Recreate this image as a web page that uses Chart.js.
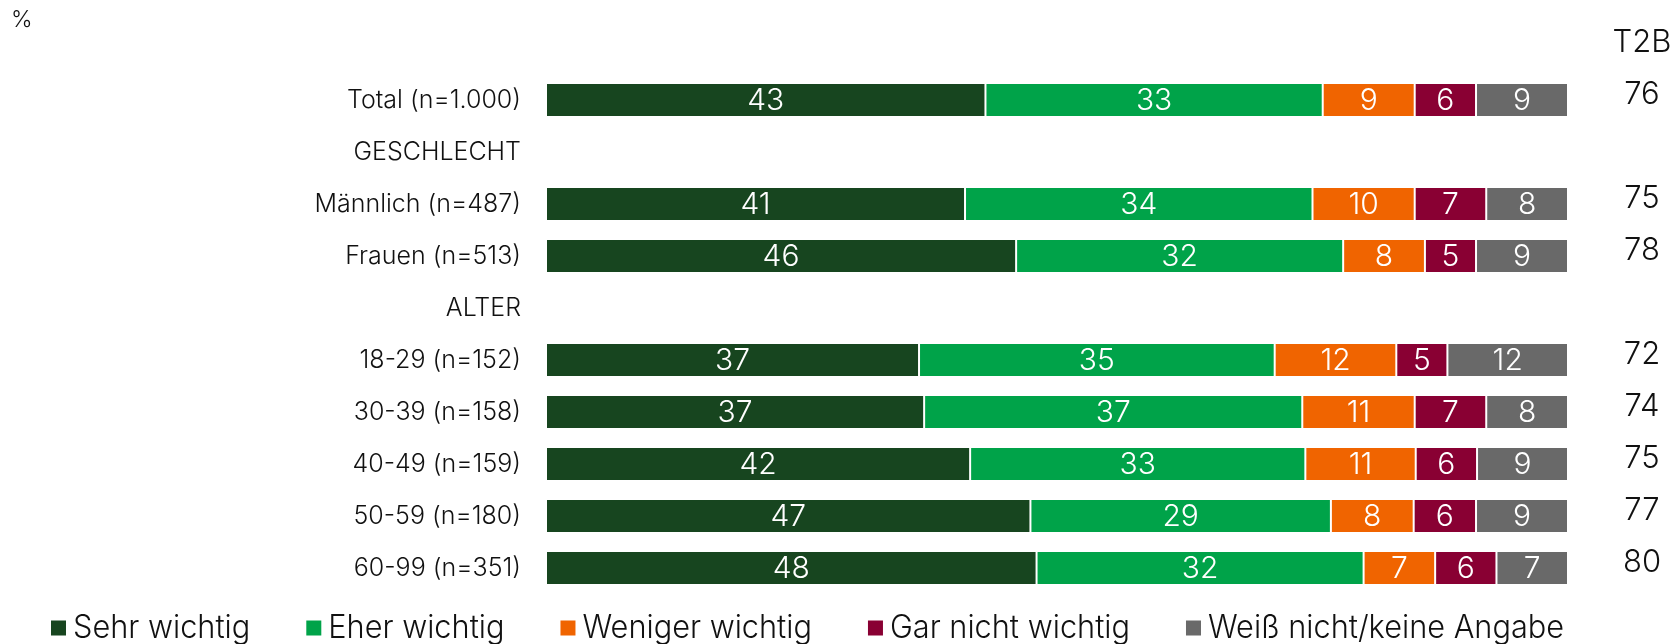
<!DOCTYPE html>
<html>
<head>
<meta charset="utf-8">
<script src="https://cdn.jsdelivr.net/npm/chart.js@4/dist/chart.umd.min.js"></script>
<style>
  html, body { margin: 0; padding: 0; background: #fff; }
  #wrap { width: 1674px; height: 644px; position: relative; }
</style>
</head>
<body>
<div id="wrap"><canvas id="importanceChart"></canvas></div>
<script>
// categories (empty rows are the group headings)
const categories = ['Total (n=1.000)', 'GESCHLECHT', 'Männlich (n=487)', 'Frauen (n=513)', 'ALTER',
    '18-29 (n=152)', '30-39 (n=158)', '40-49 (n=159)', '50-59 (n=180)', '60-99 (n=351)'];

// series, in %
const sehrWichtig    = [43, null, 41, 46, null, 36.5, 37, 41.5, 47.4, 48];
const eherWichtig    = [33, null, 34, 32, null, 34.8, 37, 32.8, 29.4, 32];
const wenigerWichtig = [9, null, 10, 8, null, 11.9, 11, 10.8, 8.1, 7];
const garNicht       = [6, null, 7, 5, null, 5.0, 7, 6.0, 6.1, 6];
const weissNicht     = [9, null, 8, 9, null, 11.8, 8, 8.9, 9.0, 7];

// top two boxes
const t2b = [76, null, 75, 78, null, 72, 74, 75, 77, 80];

const seriesNames = ['Sehr wichtig', 'Eher wichtig', 'Weniger wichtig', 'Gar nicht wichtig', 'Weiß nicht/keine Angabe'];
const seriesColors = ['#17451f', '#00a349', '#f06400', '#890033', '#696969'];

const FONT = 'Inter, "Open Sans", sans-serif';

// value labels inside bars, T2B column, header texts, legend
const extras = {
    id: 'extras',
    afterDatasetsDraw(chart) {
        const ctx = chart.ctx;
        ctx.save();
        ctx.textAlign = 'center';
        ctx.textBaseline = 'middle';
        ctx.fillStyle = '#ffffff';
        ctx.font = '300 30px ' + FONT;
        chart.data.datasets.forEach((ds, i) => {
            chart.getDatasetMeta(i).data.forEach((bar, j) => {
                const v = ds.data[j];
                if (v == null) return;
                const p = bar.getProps(['x', 'y', 'base'], true);
                ctx.fillText(Math.round(v), (p.x + p.base) / 2, p.y + 1);
            });
        });

        const yScale = chart.scales.y;
        const colX = 1642;
        ctx.fillStyle = '#111111';
        ctx.font = '300 31px ' + FONT;
        t2b.forEach((v, j) => {
            if (v == null) return;
            ctx.fillText(v, colX, yScale.getPixelForValue(j) - 5);
        });
        ctx.font = '300 31px ' + FONT;
        ctx.fillText('T2B', colX, 43);
        ctx.textAlign = 'left';
        ctx.font = '300 23px ' + FONT;
        ctx.fillText('%', 11, 20);

        // legend
        const ly = 627;
        const box = 15;
        let x = 51;
        ctx.font = '300 32px ' + FONT;
        const squeeze = 0.96;
        seriesNames.forEach((name, i) => {
            ctx.fillStyle = seriesColors[i];
            ctx.fillRect(x, ly - box / 2 + 1, box, box);
            x += box + 7;
            ctx.save();
            ctx.translate(x, ly);
            ctx.scale(squeeze, 1);
            ctx.fillStyle = '#111111';
            ctx.fillText(name, 0, 1);
            ctx.restore();
            x += ctx.measureText(name).width * squeeze + 56;
        });
        ctx.restore();
    }
};

const datasets = [sehrWichtig, eherWichtig, wenigerWichtig, garNicht, weissNicht].map((d, i) => ({
    label: seriesNames[i],
    data: d,
    backgroundColor: seriesColors[i],
    borderColor: '#ffffff',
    borderWidth: { left: 1, right: 1, top: 0, bottom: 0 },
    borderSkipped: false,
    categoryPercentage: 1,
    barPercentage: 0.615
}));

new Chart(document.getElementById('importanceChart'), {
    type: 'bar',
    data: { labels: categories, datasets: datasets },
    options: {
        indexAxis: 'y',
        responsive: true,
        maintainAspectRatio: false,
        animation: false,
        layout: { padding: { top: 74, bottom: 50, right: 106, left: 0 } },
        scales: {
            x: { stacked: true, min: 0, max: 100, display: false },
            y: {
                stacked: true,
                grid: { display: false },
                border: { display: false },
                afterFit(scale) { scale.width = 546; },
                ticks: {
                    padding: 17,
                    color: '#111111',
                    font: { family: FONT, size: 25, weight: 300 }
                }
            }
        },
        plugins: {
            legend: { display: false },
            tooltip: { enabled: false }
        }
    },
    plugins: [extras]
});
</script>
</body>
</html>
